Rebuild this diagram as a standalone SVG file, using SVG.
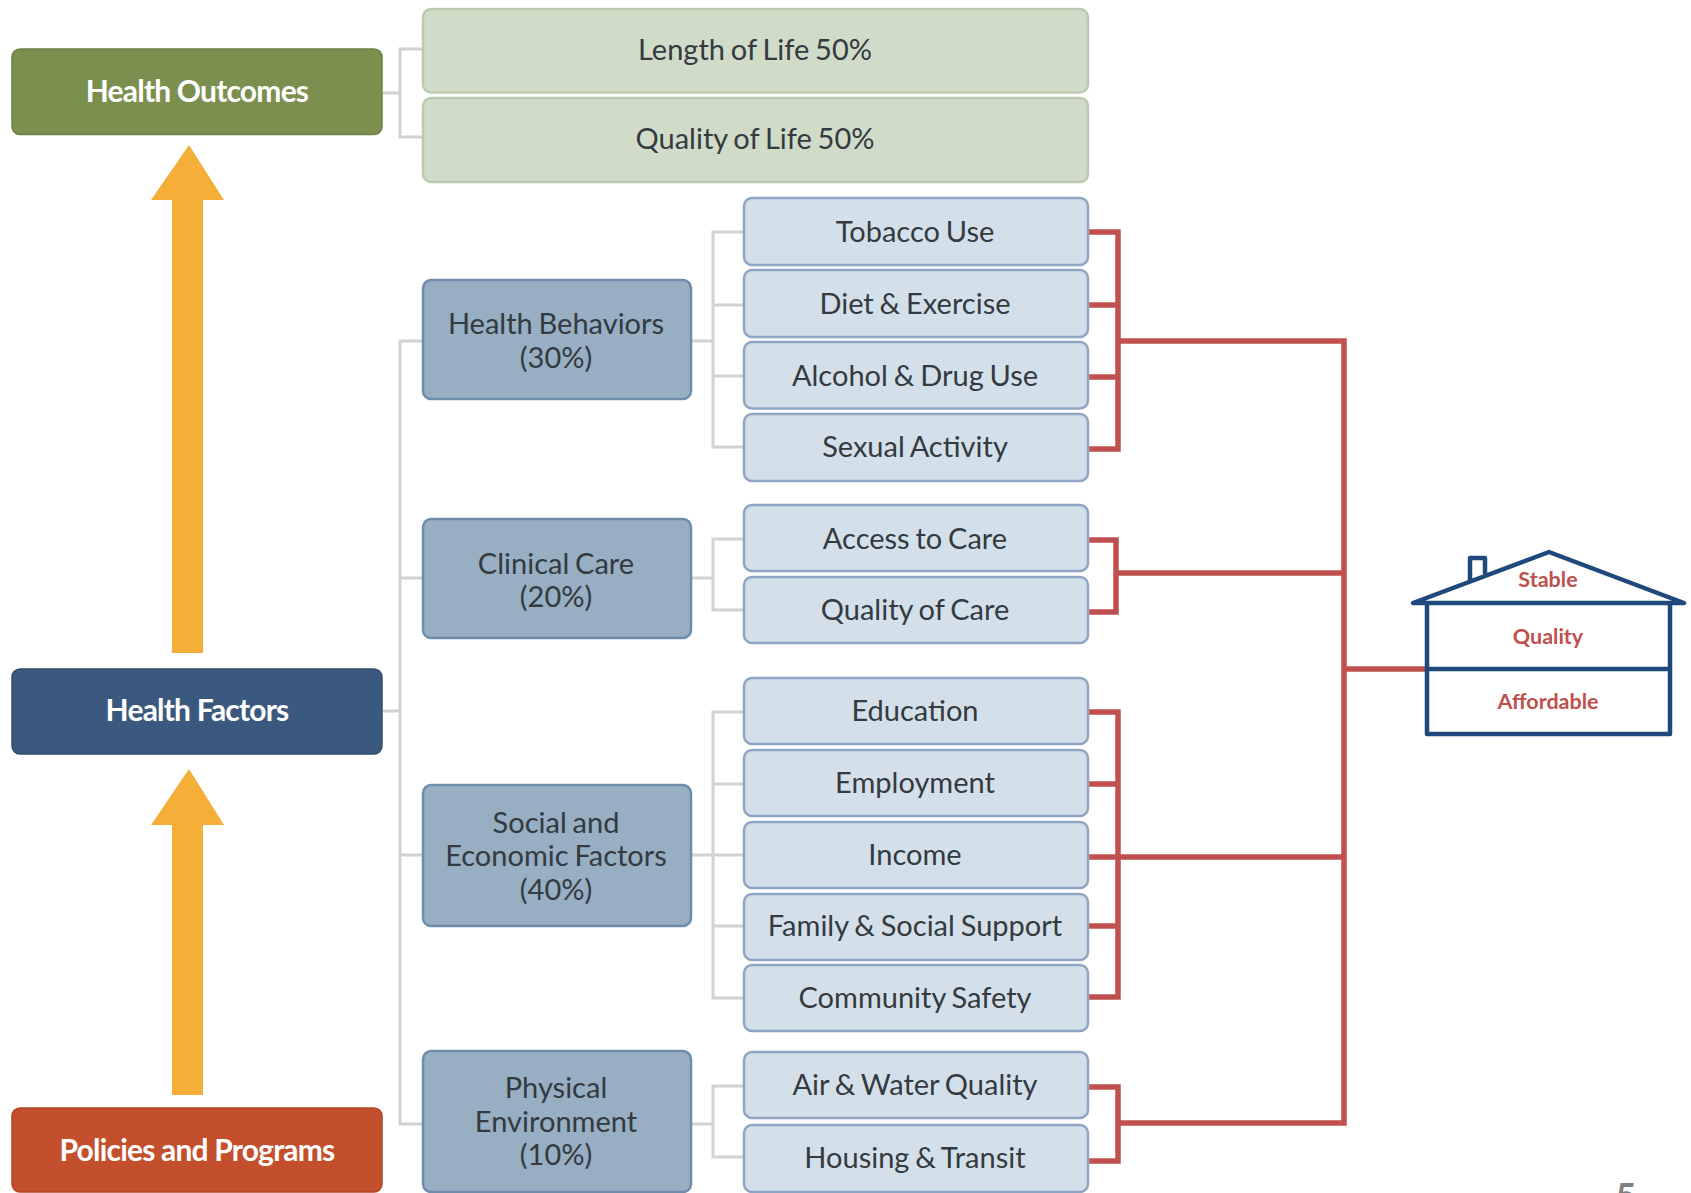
<svg xmlns="http://www.w3.org/2000/svg" width="1691" height="1193" viewBox="0 0 1691 1193">
<style>
text{font-family:"Lato","Open Sans","Liberation Sans",sans-serif;text-anchor:middle}
.t{font-size:29px;fill:#333a40;word-spacing:-1.6px}
.w{font-size:30px;fill:#fff;font-weight:700;letter-spacing:-.8px}
.r{font-size:21.5px;fill:#c0504d;font-weight:700}
.g{fill:#d0dbc8;stroke:#bccbb0;stroke-width:2.5}
.b{fill:#97aec3;stroke:#6f8cab;stroke-width:2.5}
.l{fill:#d3e0ea;stroke:#8ea5c4;stroke-width:2.5}
.grey{fill:none;stroke:#d2d2d2;stroke-width:3}
.red{fill:none;stroke:#c0504d;stroke-width:5.5}
.house{fill:none;stroke:#1f497d;stroke-width:4.5;stroke-linejoin:round;stroke-linecap:round}
.arrow{fill:#f5ae38}
</style>
<g id="connectors">
<path class="grey" d="M383 93H400M422 49H400V137H422"/>
<path class="grey" d="M383 711H400M422 341H400V1124H422M400 578H422M400 855H422"/>
<path class="grey" d="M691 341H713M743 232H713V447H743M713 305H743M713 376H743"/>
<path class="grey" d="M691 578H713M743 539H713V610H743"/>
<path class="grey" d="M691 855H713M743 712H713V998H743M713 784H743M713 855H743M713 926H743"/>
<path class="grey" d="M691 1124H713M743 1086H713V1157H743"/>
<path class="red" d="M1088 232H1118V449H1088M1088 305H1118M1088 377H1118M1118 341H1344V1123H1118M1088 1087H1118V1161H1088"/>
<path class="red" d="M1088 540H1116V612H1088M1116 573H1344"/>
<path class="red" d="M1088 712H1118V997H1088M1088 784H1118M1088 857H1344M1088 926H1118M1344 669H1427"/>
</g>
<g id="arrow-up-top"><path class="arrow" d="M189 145L224 200H203V653H172V200H151Z"/></g>
<g id="arrow-up-bottom"><path class="arrow" d="M189 769L224 825H203V1095H172V825H151Z"/></g>
<g id="health-outcomes"><rect x="12" y="49" width="370" height="85.500" rx="8" fill="#7b8f4f" stroke="#6b8043" stroke-width="1.500"/><text class="w" x="197" y="102">Health Outcomes</text></g>
<g id="health-factors"><rect x="12" y="669" width="370" height="85" rx="8" fill="#3b587f" stroke="#324d72" stroke-width="1.500"/><text class="w" x="197" y="721">Health Factors</text></g>
<g id="policies"><rect x="12" y="1108" width="370" height="84" rx="8" fill="#c44f2c" stroke="#b04424" stroke-width="1.500"/><text class="w" x="197" y="1161">Policies and Programs</text></g>
<g id="length-of-life"><rect class="g" x="423" y="9" width="665" height="83.500" rx="8"/><text class="t" x="755" y="60">Length of Life 50%</text></g>
<g id="quality-of-life"><rect class="g" x="423" y="98" width="665" height="84" rx="8"/><text class="t" x="755" y="149">Quality of Life 50%</text></g>
<g id="health-behaviors"><rect class="b" x="423" y="280" width="268" height="119" rx="8"/><text class="t" x="556" y="334">Health Behaviors</text><text class="t" x="556" y="368">(30%)</text></g>
<g id="clinical-care"><rect class="b" x="423" y="519" width="268" height="119" rx="8"/><text class="t" x="556" y="574">Clinical Care</text><text class="t" x="556" y="607">(20%)</text></g>
<g id="social-economic"><rect class="b" x="423" y="785" width="268" height="141" rx="8"/><text class="t" x="556" y="833">Social and</text><text class="t" x="556" y="866">Economic Factors</text><text class="t" x="556" y="900">(40%)</text></g>
<g id="physical-environment"><rect class="b" x="423" y="1051" width="268" height="141" rx="8"/><text class="t" x="556" y="1098">Physical</text><text class="t" x="556" y="1132">Environment</text><text class="t" x="556" y="1165">(10%)</text></g>
<g id="tobacco"><rect class="l" x="744" y="198" width="344" height="67" rx="8"/><text class="t" x="915" y="242">Tobacco Use</text></g>
<g id="diet"><rect class="l" x="744" y="270" width="344" height="67" rx="8"/><text class="t" x="915" y="314">Diet &amp; Exercise</text></g>
<g id="alcohol"><rect class="l" x="744" y="342" width="344" height="66.500" rx="8"/><text class="t" x="915" y="386">Alcohol &amp; Drug Use</text></g>
<g id="sexual"><rect class="l" x="744" y="414" width="344" height="67" rx="8"/><text class="t" x="915" y="457">Sexual Activity</text></g>
<g id="access"><rect class="l" x="744" y="505" width="344" height="66" rx="8"/><text class="t" x="915" y="549">Access to Care</text></g>
<g id="quality-care"><rect class="l" x="744" y="577" width="344" height="66" rx="8"/><text class="t" x="915" y="620">Quality of Care</text></g>
<g id="education"><rect class="l" x="744" y="678" width="344" height="66" rx="8"/><text class="t" x="915" y="721">Education</text></g>
<g id="employment"><rect class="l" x="744" y="750" width="344" height="66" rx="8"/><text class="t" x="915" y="793">Employment</text></g>
<g id="income"><rect class="l" x="744" y="822" width="344" height="66" rx="8"/><text class="t" x="915" y="865">Income</text></g>
<g id="family"><rect class="l" x="744" y="894" width="344" height="66" rx="8"/><text class="t" x="915" y="936">Family &amp; Social Support</text></g>
<g id="community"><rect class="l" x="744" y="965" width="344" height="66" rx="8"/><text class="t" x="915" y="1008">Community Safety</text></g>
<g id="air-water"><rect class="l" x="744" y="1052" width="344" height="66" rx="8"/><text class="t" x="915" y="1095">Air &amp; Water Quality</text></g>
<g id="housing"><rect class="l" x="744" y="1125" width="344" height="67" rx="8"/><text class="t" x="915" y="1168">Housing &amp; Transit</text></g>
<g id="house">
<path class="house" d="M1413 603L1549 552L1684 603ZM1427 603V734H1670V603M1427 669H1670M1470 580V558H1485V573"/>
<text class="r" x="1548" y="587">Stable</text>
<text class="r" x="1548" y="644">Quality</text>
<text class="r" x="1548" y="709">Affordable</text>
</g>
<text x="1626" y="1209" font-size="36" font-weight="700" fill="#808080">5</text>
</svg>
